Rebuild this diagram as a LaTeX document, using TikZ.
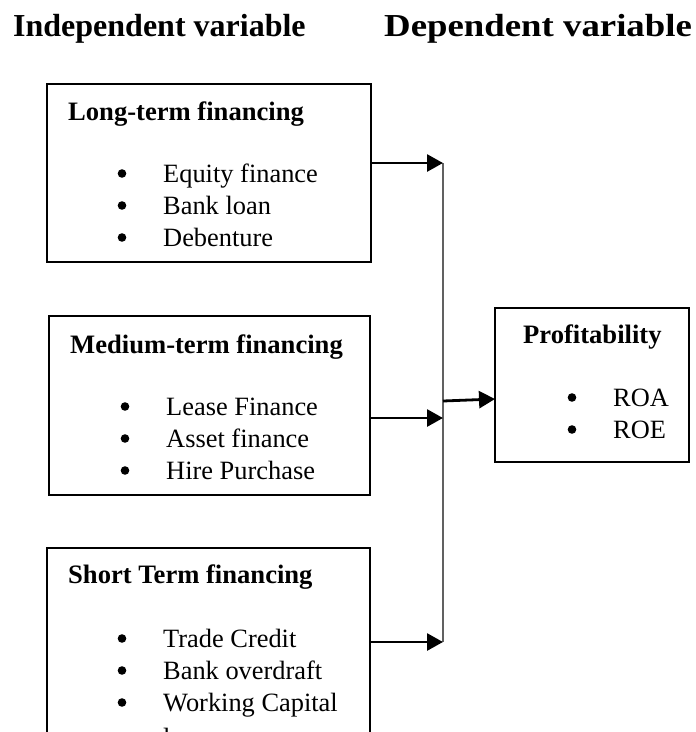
\documentclass[tikz,border=0pt]{standalone}
\usepackage{fontspec}
\setmainfont{Liberation Serif}
\usetikzlibrary{arrows.meta}
\begin{document}
\begin{tikzpicture}[x=1pt,y=-1pt,
  box/.style={draw=black,line width=2.3pt,inner sep=0pt,outer sep=0pt,fill=none},
  head/.style={anchor=base west,inner sep=0pt,font=\fontsize{32}{38}\selectfont\bfseries},
  ttl/.style={anchor=base west,inner sep=0pt,font=\fontsize{26.6}{32}\selectfont\bfseries},
  itm/.style={anchor=base west,inner sep=0pt,font=\fontsize{26.4}{32}\selectfont},
  arr/.style={line width=2.8pt,-{Triangle[length=16pt,width=17pt]}},
  vline/.style={line width=2.4pt,draw=black!62},
  dotmark/.style={fill=black}]
\useasboundingbox (0,0) rectangle (696,732);
\clip (0,0) rectangle (696,732);
% headings
\node[head] (hind) at (13,36) {Independent variable};
\node[head,xscale=1.15] (hdep) at (384,36) {Dependent variable};
% boxes
\node[box,minimum width=324pt,minimum height=178pt] (b1) at (209,173) {};
\node[box,minimum width=321pt,minimum height=179pt] (b2) at (209.5,405.5) {};
\node[box,minimum width=323pt,minimum height=260pt] (b3) at (208.5,678) {};
\node[box,minimum width=194pt,minimum height=154pt] (prof) at (592,385) {};
% box 1
\node[ttl] (t1) at (68,120) {Long-term financing};
\node[itm] (i11) at (163,182) {Equity finance};
\node[itm] (i12) at (163,214) {Bank loan};
\node[itm] (i13) at (163,246) {Debenture};
% box 2
\node[ttl] (t2) at (70,353) {Medium-term financing};
\node[itm] (i21) at (166,415) {Lease Finance};
\node[itm] (i22) at (166,447) {Asset finance};
\node[itm] (i23) at (166,479) {Hire Purchase};
% box 3
\node[ttl] (t3) at (68,583) {Short Term financing};
\node[itm] (i31) at (163,647) {Trade Credit};
\node[itm] (i32) at (163,679) {Bank overdraft};
\node[itm] (i33) at (163,711) {Working Capital};
\node[itm] (i34) at (163,746) {loans};
% profitability
\node[ttl] (tp) at (523,343) {Profitability};
\node[itm] (ip1) at (613,406) {ROA};
\node[itm] (ip2) at (613,438) {ROE};
% bullets
\foreach \n in {i11,i12,i13,i21,i22,i23,i31,i32,i33,ip1,ip2}
  \fill[dotmark] ([shift={(-41,-8.5)}]\n.base west) circle (4.3pt);
% junctions
\coordinate (j1) at (443,163);
\coordinate (j2) at (443,418);
\coordinate (j3) at (443,642);
\coordinate (jm) at (443,401);
\coordinate (pin) at (495,399);
\draw[vline] (j1) -- (j3);
\draw[arr] (b1.east |- j1) -- (j1);
\draw[arr] (b2.east |- j2) -- (j2);
\draw[arr] (b3.east |- j3) -- (j3);
\draw[arr] (jm) -- (prof.west |- pin);
\end{tikzpicture}
\end{document}
